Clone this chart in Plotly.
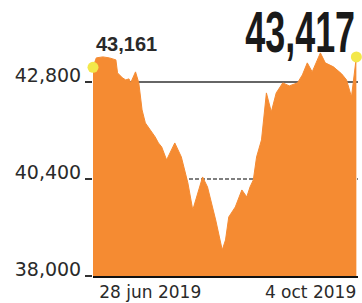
import plotly.graph_objects as go

dates = ["2019-05-24", "2019-05-26", "2019-05-30", "2019-06-03", "2019-06-07", "2019-06-08",
         "2019-06-11", "2019-06-13", "2019-06-15", "2019-06-16", "2019-06-19", "2019-06-21",
         "2019-06-23", "2019-06-25", "2019-06-28", "2019-07-01", "2019-07-03", "2019-07-05",
         "2019-07-08", "2019-07-13", "2019-07-17", "2019-07-21", "2019-07-24", "2019-07-30",
         "2019-08-02", "2019-08-07", "2019-08-11", "2019-08-13", "2019-08-15", "2019-08-19",
         "2019-08-23", "2019-08-26", "2019-08-28", "2019-08-30", "2019-09-01", "2019-09-04",
         "2019-09-07", "2019-09-10", "2019-09-13", "2019-09-17", "2019-09-21", "2019-09-26",
         "2019-09-29", "2019-10-02", "2019-10-05", "2019-10-10", "2019-10-13", "2019-10-18",
         "2019-10-23", "2019-10-26", "2019-10-29", "2019-11-01"]
values = [43161, 43393, 43418, 43393, 43344, 43022,
          42899, 42849, 42874, 42775, 43047, 42775,
          42107, 41785, 41612, 41439, 41290, 41191,
          40870, 41290, 40944, 40301, 39633, 40449,
          40202, 39385, 38643, 38891, 39460, 39707,
          40128, 39954, 40202, 40375, 40944, 41365,
          42527, 42057, 42527, 42775, 42701, 42775,
          42973, 43270, 43047, 43517, 43270, 43171,
          42998, 42849, 42428, 43417]

y_ticks = [38000, 40400, 42800]
y_tick_labels = ["38,000", "40,400", "42,800"]
x_ticks = ["2019-06-28", "2019-10-04"]
x_tick_labels = ["28 jun 2019", "4 oct 2019"]
first_label = "43,161"
last_label = "43,417"

ORANGE = "#F58B32"
YELLOW = "#F3E84A"
TXT = "#2a2a2a"

fig = go.Figure()
fig.add_trace(go.Scatter(
    x=dates, y=values, mode="lines", fill="tozeroy",
    fillcolor=ORANGE, line=dict(color=ORANGE, width=1),
    hoverinfo="skip", showlegend=False))
fig.add_trace(go.Scatter(
    x=[dates[0], dates[-1]], y=[values[0], values[-1]], mode="markers",
    marker=dict(color=YELLOW, size=11), cliponaxis=False,
    hoverinfo="skip", showlegend=False))

# reference lines
fig.add_shape(type="line", xref="paper", x0=0, x1=1, yref="y", y0=y_ticks[2], y1=y_ticks[2],
              line=dict(color="#333333", width=1.5), layer="below")
fig.add_shape(type="line", xref="paper", x0=0, x1=1, yref="y", y0=y_ticks[1], y1=y_ticks[1],
              line=dict(color="#555555", width=1.5, dash="4px,2px"), layer="below")

big_font = "Liberation Sans, Arial, sans-serif"
fig.add_annotation(text="<b>" + first_label + "</b>", xref="paper", yref="paper",
                   x=0.128, y=0.906, xanchor="center", yanchor="middle", showarrow=False,
                   font=dict(family=big_font, size=20, color=TXT))
fig.add_annotation(text="<b>" + last_label + "</b>", xref="paper", yref="paper",
                   x=0.781, y=1.0 + 20 / 256, xanchor="center", yanchor="top", showarrow=False,
                   borderpad=0, yshift=1,
                   font=dict(family=big_font, size=57, color="#1a1a1a"))

fig.update_layout(
    width=362, height=303,
    margin=dict(l=93, r=4, t=20, b=27, autoexpand=False),
    paper_bgcolor="white", plot_bgcolor="white",
    font=dict(family="DejaVu Sans", color=TXT),
    xaxis=dict(type="date", range=["2019-05-24", "2019-11-02"],
               tickvals=x_ticks, ticktext=x_tick_labels, ticks="",
               showgrid=False, zeroline=False, automargin=False,
               showline=True, linecolor="#111111", linewidth=2,
               ticklabelstandoff=0,
               tickfont=dict(size=17, color=TXT)),
    yaxis=dict(range=[38000, 44330], tickvals=y_ticks, ticktext=y_tick_labels,
               ticks="outside", ticklen=7, tickwidth=1.5, tickcolor="#333333",
               showgrid=False, zeroline=False, showline=False, automargin=False,
               ticklabelshift=-7,
               tickfont=dict(size=19, color=TXT)),
)

# page without body margin; condense the large headline number horizontally
post_script = """
(function(){
  document.documentElement.style.margin = '0';
  document.body.style.margin = '0';
  document.body.style.padding = '0';
  var gd = document.getElementById('{plot_id}');
  function squeeze(){
    var els = gd.querySelectorAll('.annotation[data-index="1"] .annotation-text');
    els.forEach(function(el){
      el.style.transformBox = 'fill-box';
      el.style.transformOrigin = 'center';
      el.style.transform = 'scaleX(0.63)';
    });
  }
  squeeze();
  if (gd.on) { gd.on('plotly_afterplot', squeeze); }
  setTimeout(squeeze, 30);
  setTimeout(squeeze, 300);
})();
"""

fig.write_html("out.html", post_script=post_script, config={"displayModeBar": False})
